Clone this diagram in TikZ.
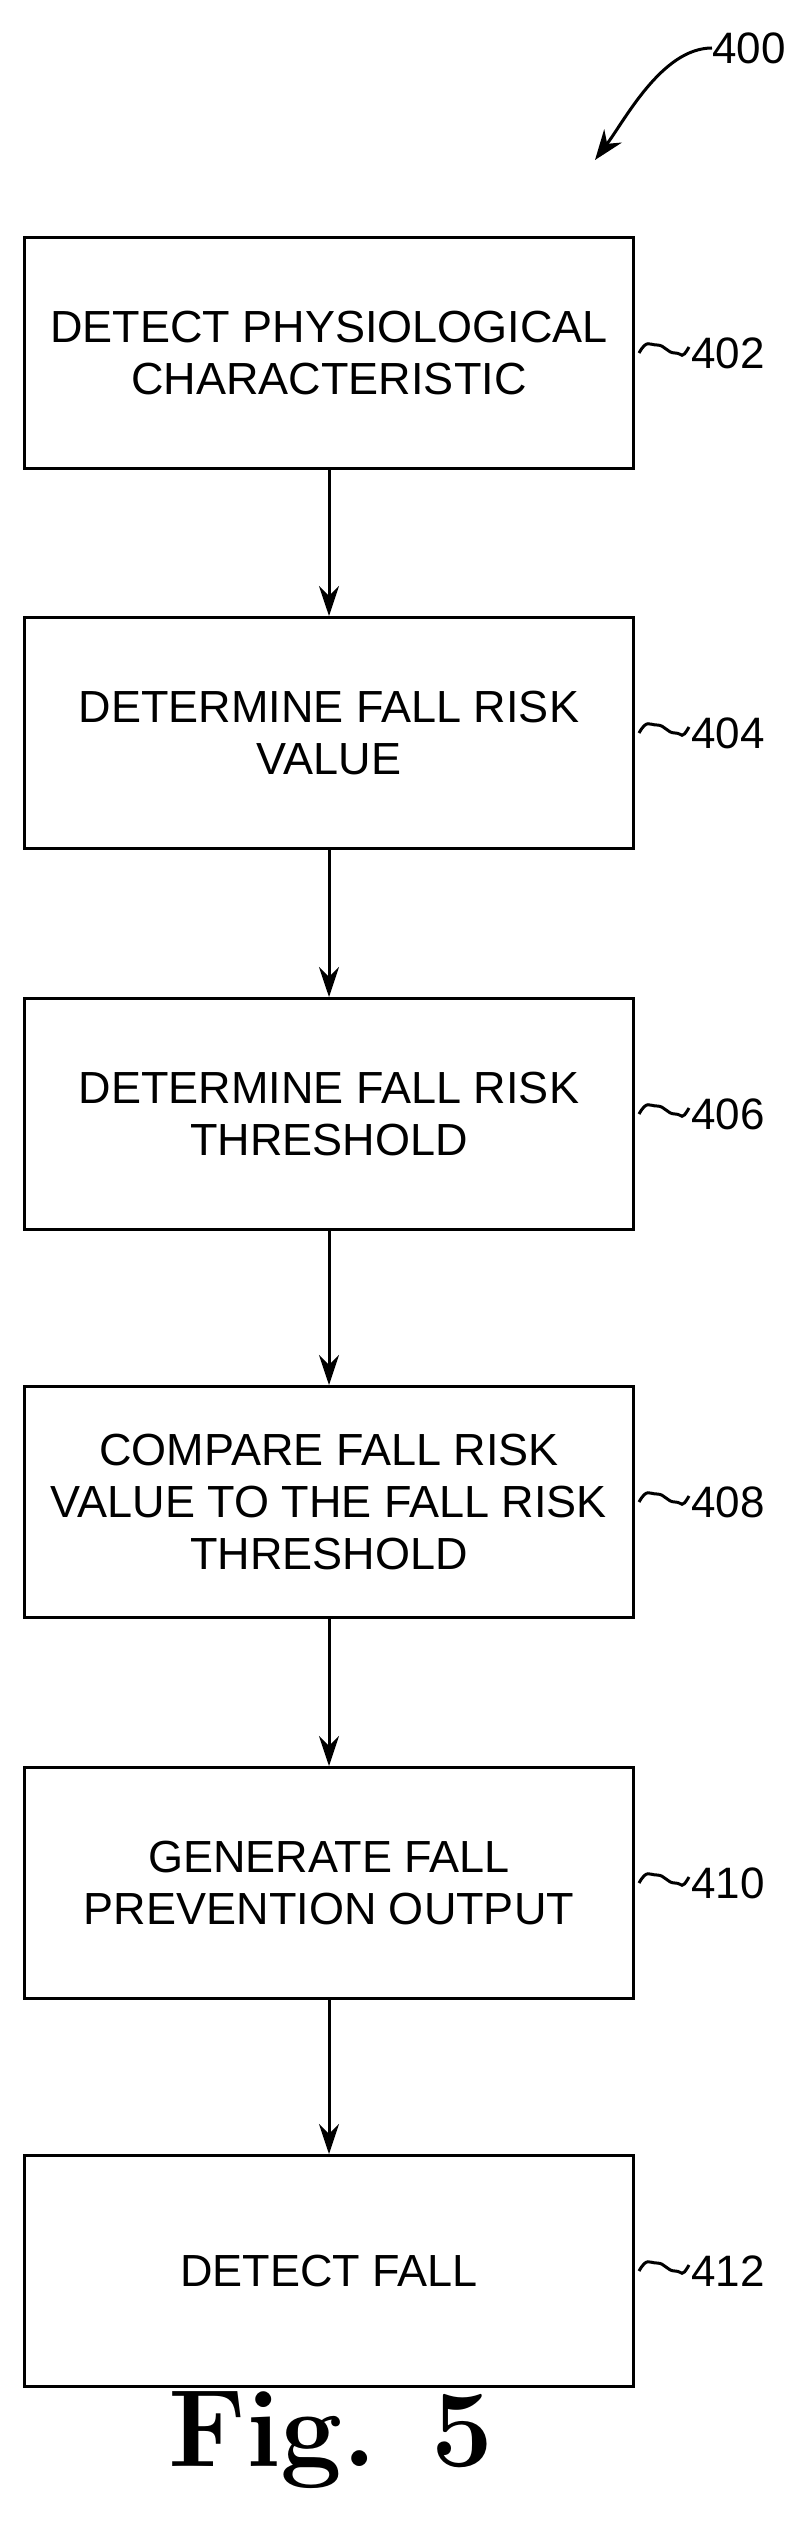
\documentclass[tikz,border=0pt]{standalone}
\usepackage{fontspec}
\setmainfont{Liberation Sans}
\newfontfamily\figfont{Latin Modern Roman}
\usetikzlibrary{arrows.meta}
\begin{document}
\begin{tikzpicture}[x=1pt,y=-1pt,
  stepbox/.style={draw,line width=3pt,minimum width=609pt,minimum height=231pt,anchor=north west,inner sep=0pt,align=center,font=\fontsize{45}{52}\selectfont},
  flow/.style={-{Stealth[length=30pt,width=20pt]},line width=3pt},
  reflab/.style={font=\fontsize{44}{50}\selectfont,anchor=west,inner sep=0pt}]
\useasboundingbox (0,0) rectangle (799,2531);
\node[stepbox] (b1) at (23,236) {DETECT PHYSIOLOGICAL\\CHARACTERISTIC};
\node[stepbox] (b2) at (23,616) {DETERMINE FALL RISK\\VALUE};
\node[stepbox] (b3) at (23,997) {DETERMINE FALL RISK\\THRESHOLD};
\node[stepbox] (b4) at (23,1385) {COMPARE FALL RISK\\VALUE TO THE FALL RISK\\THRESHOLD};
\node[stepbox] (b5) at (23,1766) {GENERATE FALL\\PREVENTION OUTPUT};
\node[stepbox] (b6) at (23,2154) {DETECT FALL};
\foreach \a/\b in {b1/b2,b2/b3,b3/b4,b4/b5,b5/b6} \draw[flow] (\a.south) -- (\b.north);
\foreach \b/\t in {b1/402,b2/404,b3/406,b4/408,b5/410,b6/412}{
  \draw[line width=3pt] (\b.east) ++(4,0) .. controls +(8,-14) and +(-8,0) .. ++(18,-8) .. controls +(8,0) and +(-8,0) .. ++(18,8) .. controls +(8,0) and +(-8,14) .. ++(14,-6);
  \node[reflab] (l\t) at ([xshift=56pt]\b.east) {\t};
}
\node[reflab] (l400) at (712,48) {400};
\coordinate (a400) at (595,160);
\draw[-{Stealth[length=30pt,width=22pt]},line width=3pt] (l400.west) .. controls +(-50,0) and +(30,-40) .. (a400);
\node[font=\figfont\bfseries\fontsize{110}{120}\selectfont] (fig) at (331,2440) {Fig. 5};
\end{tikzpicture}
\end{document}
